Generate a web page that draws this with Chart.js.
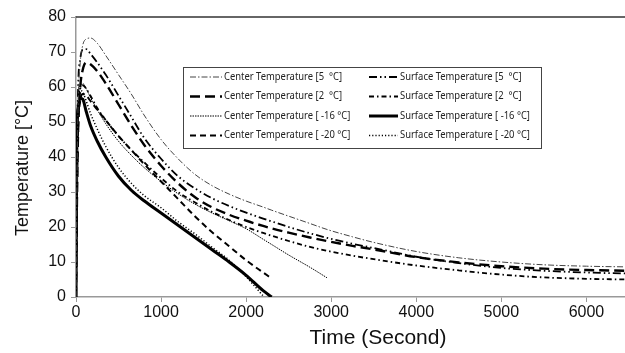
<!DOCTYPE html>
<html>
<head>
<meta charset="utf-8">
<script src="https://cdn.jsdelivr.net/npm/chart.js@4.4.0/dist/chart.umd.min.js"></script>
<style>
  html, body { margin: 0; padding: 0; background: #fff; overflow: hidden }
  #wrap { width: 680px; height: 353px }
</style>
</head>
<body>
<div id="wrap"><canvas id="grafico"></canvas></div>
<script>
// tempo (s) comum a todas as curvas
const timeSec = [0, 10, 25, 50, 80, 120, 170, 250, 350, 500, 650, 800, 1000, 1200, 1400, 1600, 1800, 2000, 2200, 2300, 2500, 2750, 2950, 3250, 3500, 4000, 4500, 5000, 5500, 6000, 6500, 7000]

const center5  = [0, 30, 55, 67, 72, 73.7, 74, 72.5, 69, 63.5, 58, 52, 45, 39.5, 35, 31.8, 29.4, 27.4, 25.7, 24.8, 23.1, 21, 19.3, 17.2, 15.6, 13, 11.2, 10, 9.2, 8.8, 8.6, 8.5]
const surface5 = [0, 38, 60, 68, 70.7, 70.8, 69.5, 67, 63.5, 57.5, 51.5, 45.5, 39.5, 34.5, 31, 28.2, 26, 24.1, 22.4, 21.6, 20, 18.2, 16.9, 15.2, 14, 11.5, 9.7, 8.3, 7.5, 7, 6.7, 6.5]
const center2  = [0, 25, 48, 60, 65, 67, 66.5, 64.5, 61, 55, 49, 43.5, 37.5, 32.5, 28.5, 25.6, 23.5, 21.8, 20.3, 19.6, 18.4, 17, 16, 14.6, 13.6, 11.4, 9.9, 8.8, 8.1, 7.7, 7.5, 7.3]
const surface2 = [0, 33, 53, 59.5, 60.5, 59.5, 57.5, 54, 50.5, 46, 42, 38.5, 34, 30, 27, 24.3, 22, 20, 18.3, 17.5, 16, 14.3, 13.2, 11.8, 10.8, 9, 7.6, 6.4, 5.6, 5.2, 5, 4.9]
const center16  = [0, 30, 52, 60, 61, 59.5, 57, 53.5, 49.5, 44.5, 40.5, 37, 33, 29.5, 26.5, 24, 21.8, 19.5, 16.5, 15, 12, 8.5, 5.5, null, null, null, null, null, null, null, null, null]
const surface16 = [0, 45, 54, 56.8, 56.5, 53, 49, 44.5, 40, 34.5, 30.5, 27.5, 24, 20.5, 17, 13.5, 10, 6.2, 1.8, 0, null, null, null, null, null, null, null, null, null, null, null, null]
const center20  = [0, 28, 48, 56, 58, 57.5, 56, 53.5, 50.5, 46, 42, 38, 33, 28, 23, 18.5, 14.5, 10.5, 7, 5.3, null, null, null, null, null, null, null, null, null, null, null, null]
const surface20 = [0, 42, 55, 59, 58.5, 56, 52.5, 48, 43, 37, 32.5, 29, 25.5, 21.5, 18, 14.2, 10.5, 5.8, 0.3, null, null, null, null, null, null, null, null, null, null, null, null, null]

const rotulos = [
  "Center Temperature [5  °C]", "Surface Temperature [5  °C]",
  "Center Temperature [2  °C]", "Surface Temperature [2  °C]",
  "Center Temperature [ -16 °C]", "Surface Temperature [ -16 °C]",
  "Center Temperature [ -20 °C]", "Surface Temperature [ -20 °C]",
]
const xTicks = [0, 1000, 2000, 3000, 4000, 5000, 6000]
const yTicks = [0, 10, 20, 30, 40, 50, 60, 70, 80]
const tituloY = "Temperature [°C]"

function pontos(arr){
  return timeSec.map((t, i) => ({ x: t, y: arr[i] })).filter(p => p.y !== null)
}

const series = [
  { data: center5,   dash: [6, 2, 1.5, 2],           width: 1,   color: "#444" },
  { data: surface5,  dash: [8, 3, 1.5, 3, 1.5, 3],   width: 1.8, color: "#000" },
  { data: center2,   dash: [10, 5],                  width: 2.4, color: "#000" },
  { data: surface2,  dash: [5, 3, 1.5, 3],           width: 1.8, color: "#000" },
  { data: center16,  dash: [1.5, 1],                 width: 1,   color: "#000" },
  { data: surface16, dash: [],                       width: 3,   color: "#000" },
  { data: center20,  dash: [6, 4],                   width: 2,   color: "#000" },
  { data: surface20, dash: [1.2, 2],                 width: 1.5, color: "#000" },
]

const legendBox = {
  id: "legendBox",
  afterDraw(chart){
    const ctx = chart.ctx
    const a = chart.chartArea
    ctx.save()
    // linha superior do quadro
    ctx.strokeStyle = "#333"
    ctx.lineWidth = 1.5
    ctx.beginPath()
    ctx.moveTo(a.left, a.top)
    ctx.lineTo(a.right, a.top)
    ctx.stroke()

    // titulo do eixo y
    ctx.save()
    ctx.translate(23, 168)
    ctx.rotate(-Math.PI / 2)
    ctx.font = "18px 'Liberation Sans', Arial, sans-serif"
    ctx.fillStyle = "#111"
    ctx.textAlign = "center"
    ctx.textBaseline = "middle"
    ctx.fillText(tituloY, 0, 0)
    ctx.restore()

    // caixa da legenda
    ctx.fillStyle = "#fff"
    ctx.fillRect(183, 67, 358, 81)
    ctx.strokeStyle = "#444"
    ctx.lineWidth = 1
    ctx.strokeRect(183.5, 67.5, 358, 81)

    ctx.font = "10.5px 'Noto Sans'"
    ctx.textBaseline = "middle"
    // texto mais estreito, como no original
    const fator = 118 / ctx.measureText(rotulos[0]).width
    chart.data.datasets.forEach((ds, i) => {
      const col = i % 2, row = Math.floor(i / 2)
      const y = 77 + row * 19.5
      const x0 = col ? 369 : 190
      const x1 = col ? 398 : 222
      ctx.setLineDash(ds.borderDash)
      ctx.lineWidth = ds.borderWidth
      ctx.strokeStyle = ds.borderColor
      ctx.beginPath()
      ctx.moveTo(x0, y)
      ctx.lineTo(x1, y)
      ctx.stroke()
      ctx.setLineDash([])
      ctx.fillStyle = "#222"
      ctx.fillText(ds.label, x1 + 2, y, ctx.measureText(ds.label).width * fator)
    })
    ctx.restore()
  }
}

const fonteEixo = { family: "'Liberation Sans', Arial, sans-serif", size: 16 }
const fonteTitulo = { family: "'Liberation Sans', Arial, sans-serif", size: 21, lineHeight: 1.2 }

new Chart(document.getElementById("grafico"), {
  type: "line",
  data: {
    datasets: series.map((s, i) => ({
      label: rotulos[i],
      data: pontos(s.data),
      borderColor: s.color,
      borderWidth: s.width,
      borderDash: s.dash,
      pointRadius: 0,
      fill: false,
      cubicInterpolationMode: "monotone",
    })),
  },
  options: {
    animation: false,
    responsive: true,
    maintainAspectRatio: false,
    devicePixelRatio: 1,
    layout: { padding: { top: 17, right: 0, bottom: 0, left: 0 } },
    plugins: { legend: { display: false }, tooltip: { enabled: false } },
    scales: {
      x: {
        type: "linear",
        min: 0,
        max: 7100,
        afterBuildTicks: s => { s.ticks = xTicks.map(v => ({ value: v })) },
        afterFit: s => { s.height = 56 },
        ticks: { font: fonteEixo, color: "#111", padding: 1, maxRotation: 0, callback: v => String(v) },
        grid: { drawOnChartArea: false, tickLength: 5, color: "#999" },
        border: { color: "#999", width: 1.5 },
        title: { display: true, text: "Time (Second)", font: fonteTitulo, color: "#111", padding: { top: 0, bottom: 2 } },
      },
      y: {
        min: 0,
        max: 80,
        afterBuildTicks: s => { s.ticks = yTicks.map(v => ({ value: v })) },
        afterFit: s => { s.width = 76 },
        ticks: { font: fonteEixo, color: "#111", padding: 5, callback: v => String(v) },
        grid: { drawOnChartArea: false, tickLength: 5, color: "#999" },
        border: { color: "#999", width: 1.5 },
        title: { display: false },
      },
    },
  },
  plugins: [legendBox],
})
</script>
</body>
</html>
